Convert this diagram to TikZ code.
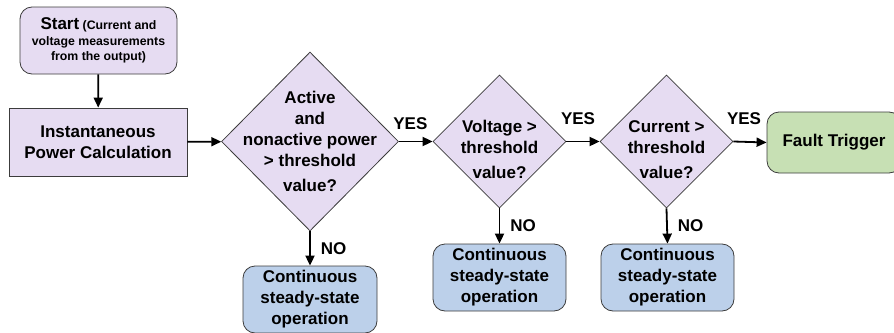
\documentclass[tikz,border=0pt]{standalone}
\usepackage{fontspec}
\setmainfont{Liberation Sans}
\usetikzlibrary{shapes.geometric,arrows.meta}
\definecolor{purplefill}{HTML}{E6DCF2}
\definecolor{bluefill}{HTML}{BCD0EA}
\definecolor{greenfill}{HTML}{C7E0B4}
\definecolor{edgegray}{HTML}{3C3C3C}
\begin{document}
\begin{tikzpicture}[x=1pt,y=-1pt,
    box/.style={draw=edgegray, line width=0.8pt, fill=purplefill, align=center, inner sep=0pt,
        font=\fontsize{17}{21}\selectfont\bfseries},
    roundbox/.style={box, rounded corners=12pt},
    decision/.style={diamond, draw=edgegray, line width=0.8pt, fill=purplefill, inner sep=0pt},
    txt/.style={align=center, inner sep=0pt, font=\fontsize{17}{21}\selectfont\bfseries},
    lbl/.style={inner sep=0pt, font=\fontsize{17}{21}\selectfont\bfseries},
    flow/.style={line width=1.8pt, -{Triangle[length=10pt,width=9pt]}}]
    \useasboundingbox (0,0) rectangle (894,332); % frame
    \node[roundbox, minimum width=157pt, minimum height=67pt, font=\fontsize{12.3}{15.5}\selectfont\bfseries]
        (start) at (98.5,40.5)
        {{\fontsize{17}{16}\selectfont Start} (Current and\\voltage measurements\\from the output)}; % start
    \node[box, minimum width=178pt, minimum height=68pt] (calc) at (98,142) {Instantaneous\\Power Calculation}; % power
    \node[decision, minimum width=177pt, minimum height=179pt] (act) at (310,141.5) {}; % check 1
    \node[txt] (acttxt) at (act) {Active\\and\\nonactive power\\> threshold\\[4pt]value?};
    \node[decision, minimum width=133pt, minimum height=133pt] (volt) at (499.5,141.5) {}; % check 2
    \node[txt, yshift=-8pt] (volttxt) at (volt) {Voltage >\\threshold\\[4pt]value?};
    \node[decision, minimum width=133pt, minimum height=133pt] (cur) at (666.5,141.5) {}; % check 3
    \node[txt, yshift=-8pt] (curtxt) at (cur) {Current >\\threshold\\[4pt]value?};
    \node[roundbox, fill=greenfill, minimum width=134pt, minimum height=61pt] (fault) at (834,142.5) {Fault Trigger}; % trip
    \node[roundbox, fill=bluefill, minimum width=134pt, minimum height=67pt] (steadyA) at (310,299.5)
        {Continuous\\steady-state\\operation};
    \node[roundbox, fill=bluefill, minimum width=133pt, minimum height=67pt] (steadyB) at (499.5,277.5)
        {Continuous\\steady-state\\operation};
    \node[roundbox, fill=bluefill, minimum width=133pt, minimum height=67pt] (steadyC) at (667.5,277.5)
        {Continuous\\steady-state\\operation};
    \draw[flow] (start) -- (calc);
    \draw[flow] (calc) -- (act);
    \draw[flow] (act.east) -- node[lbl, pos=0.34, above=11pt] (yesA) {YES} (volt.west);
    \draw[flow] (volt.east) -- node[lbl, pos=0.35, above=16pt] (yesB) {YES} (cur.west);
    \draw[flow] (cur.east) -- node[lbl, pos=0.32, above=16pt] (yesC) {YES} (fault.west);
    \draw[flow] (act.south) -- node[lbl, pos=0.51, right=10pt] (noA) {NO} (steadyA.north);
    \draw[flow] (volt.south) -- node[lbl, pos=0.5, right=10pt] (noB) {NO} (steadyB.north);
    \draw[flow] (cur.south) -- node[lbl, pos=0.5, right=10pt] (noC) {NO} (steadyC.north);
\end{tikzpicture}
\end{document}
